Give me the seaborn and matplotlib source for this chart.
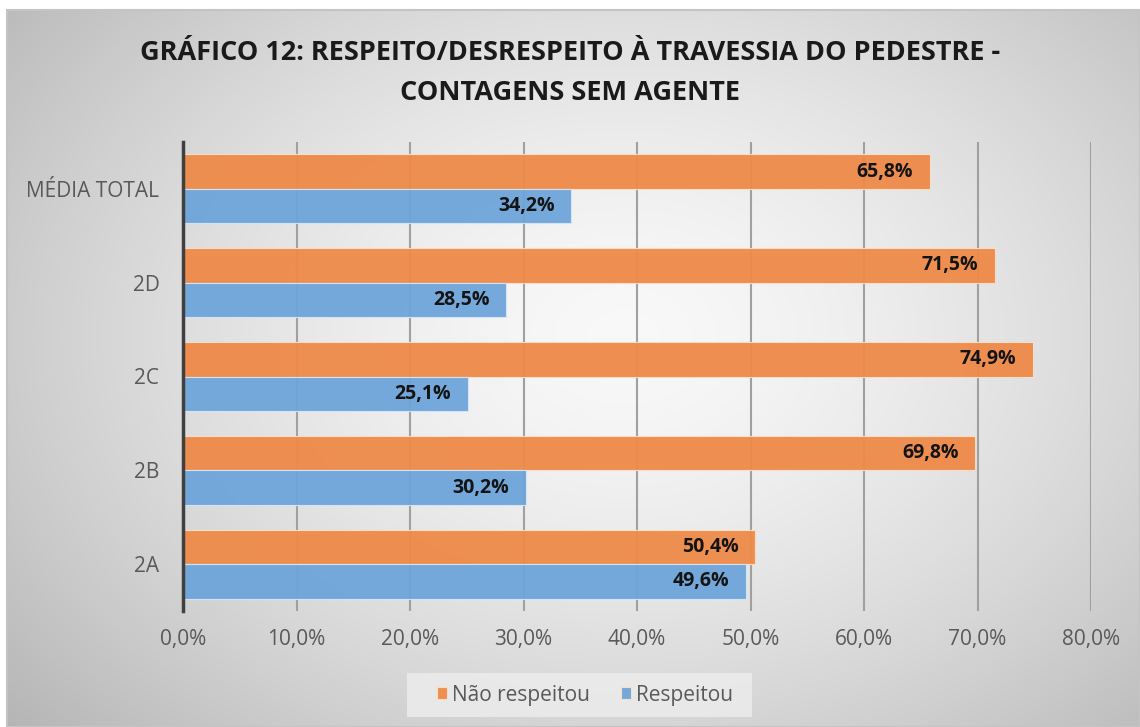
import numpy as np
import pandas as pd
import matplotlib
matplotlib.use("Agg")
import matplotlib.pyplot as plt
import seaborn as sns
from matplotlib.patches import Rectangle

categories = ["MÉDIA TOTAL", "2D", "2C", "2B", "2A"]
series_names = ["Não respeitou", "Respeitou"]
nao_respeitou = [65.8, 71.5, 74.9, 69.8, 50.4]
respeitou = [34.2, 28.5, 25.1, 30.2, 49.6]
x_ticks = [0, 10, 20, 30, 40, 50, 60, 70, 80]
title = "GRÁFICO 12: RESPEITO/DESRESPEITO À TRAVESSIA DO PEDESTRE -\nCONTAGENS SEM AGENTE"

colors = {"Não respeitou": "#EE8A48", "Respeitou": "#6EA5DA"}

df = pd.DataFrame({
    "categoria": categories * 2,
    "serie": [series_names[0]] * len(categories) + [series_names[1]] * len(categories),
    "valor": nao_respeitou + respeitou,
})

sns.set_theme(style="white")
plt.rcParams["font.family"] = ["Open Sans", "DejaVu Sans"]

W, H = 1140, 727
fig = plt.figure(figsize=(W / 100, H / 100), dpi=100)
fig.patch.set_facecolor("white")

# background radial gradient
bg = fig.add_axes([0, 0, 1, 1], zorder=-10)
bg.set_xlim(0, W)
bg.set_ylim(H, 0)
bg.axis("off")
yy, xx = np.mgrid[0:H, 0:W]
cx, cy = 620, 330
r = np.sqrt(((xx - cx) / 680.0) ** 2 + ((yy - cy) / 500.0) ** 2)
val = 0.975 - 0.20 * np.clip(r, 0, 1.2) ** 1.5
img = np.dstack([val, val, val])
bg.imshow(img, extent=[7, W, H, 10], aspect="auto", interpolation="bilinear")
bg.add_patch(Rectangle((7, 10), W - 7, H - 10, fill=False, edgecolor="#c4c4c4", lw=1.5))
# legend backdrop
bg.add_patch(Rectangle((407, 673), 345, 44, facecolor="#ececec", edgecolor="none", alpha=0.85))

ax = fig.add_axes([183 / W, 1 - 611 / H, (1091 - 183) / W, (611 - 142) / H])
ax.set_facecolor("none")

sns.barplot(data=df, y="categoria", x="valor", hue="serie", order=categories,
            hue_order=series_names, palette=colors, saturation=1, orient="h", width=0.734,
            alpha=0.95, edgecolor="#fbe0c8", linewidth=0.8, legend=True, ax=ax, zorder=3)

for cont in ax.containers:
    for bar in cont:
        if bar.get_facecolor()[2] > 0.6:
            bar.set_edgecolor("#d6e6f5")
    labels = [f"{v:.1f}".replace(".", ",") + "%" for v in cont.datavalues]
    texts = ax.bar_label(cont, labels=labels, padding=-12, label_type="edge", fontsize=14,
                         fontweight="bold", color="#141414", zorder=5)
    for t in texts:
        t.set_ha("right")

ax.set_xlim(0, 80)
ax.set_xticks(x_ticks)
ax.set_xticklabels([f"{t:.1f}".replace(".", ",") + "%" for t in x_ticks])
ax.xaxis.grid(True, color="#a0a0a0", lw=1.5, zorder=0)
ax.set_axisbelow(True)
ax.tick_params(axis="both", length=0, labelsize=15, labelcolor="#595959")
ax.tick_params(axis="x", pad=13)
ax.tick_params(axis="y", pad=17)
ax.set_xlabel("")
ax.set_ylabel("")
for s in ["top", "right", "bottom"]:
    ax.spines[s].set_visible(False)
ax.spines["left"].set_color("#404040")
ax.spines["left"].set_linewidth(2.5)
ax.spines["left"].set_zorder(6)

leg = ax.legend(loc="center", bbox_to_anchor=((585 - 183) / (1091 - 183), -(695 - 611) / (611 - 142)),
                ncol=2, frameon=False, fontsize=15, handlelength=0.5, handleheight=0.5,
                handletextpad=0.25, columnspacing=1.45, borderpad=0.3)
for t in leg.get_texts():
    t.set_color("#595959")

fig.text(0.5, 1 - 73 / H, title, ha="center", va="center", fontsize=19.5, fontweight="bold",
         color="#1a1a1a", linespacing=1.65)

fig.savefig("out.png", dpi=100)
